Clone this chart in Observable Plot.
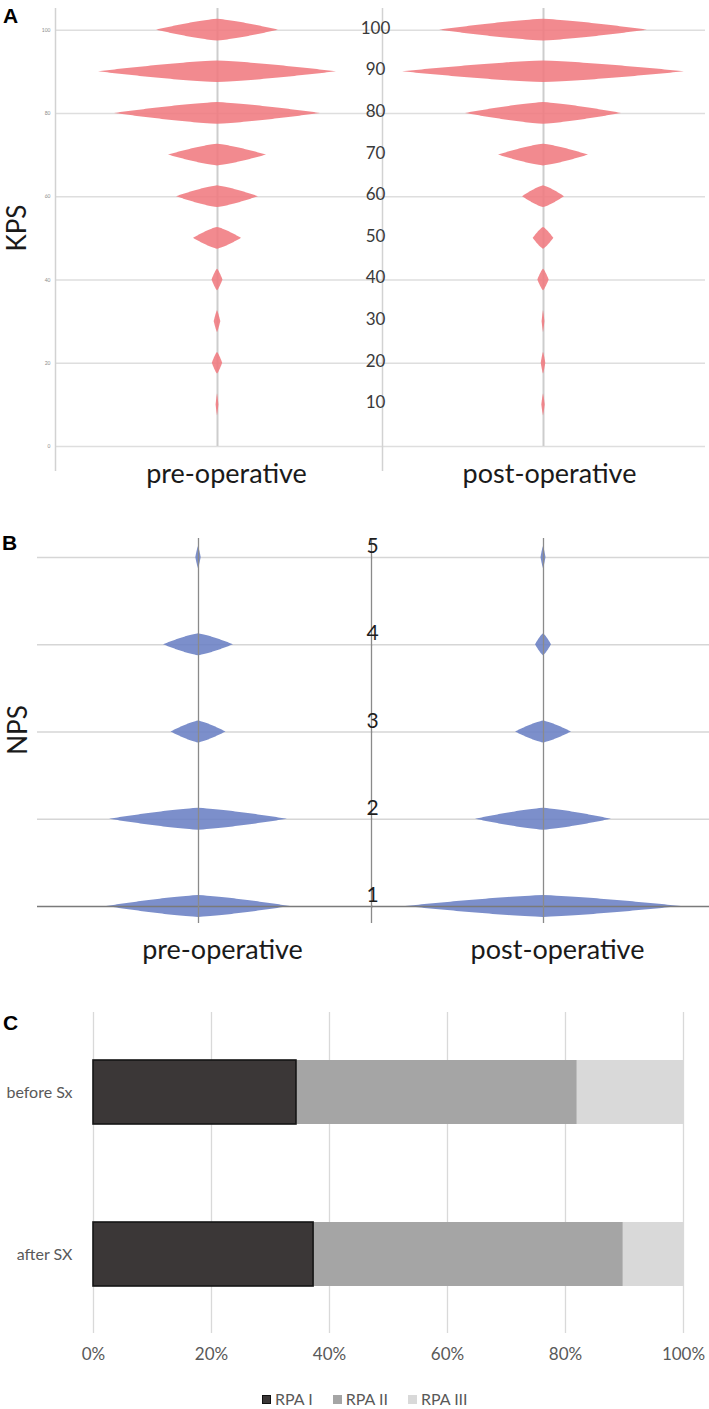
<!DOCTYPE html>
<html>
<head>
<meta charset="utf-8">
<script src="https://cdn.jsdelivr.net/npm/d3@7"></script>
<script src="https://cdn.jsdelivr.net/npm/@observablehq/plot@0.6"></script>
<style>
  html, body { margin: 0; padding: 0; background: #fff; }
  #root { position: relative; width: 709px; height: 1409px; background: #fff; font-family: Lato, "Open Sans", sans-serif; overflow: hidden; }
  .abs { position: absolute; }
  .letter { position: absolute; font-family: "Liberation Sans", Arial, sans-serif; font-weight: bold; font-size: 21px; line-height: 1; color: #000; }
  .ylab { position: absolute; font-family: Lato, sans-serif; font-size: 26px; line-height: 1; color: #1a1a1a; transform: translate(-50%, -50%) rotate(-90deg); white-space: nowrap; }
  .legend { position: absolute; display: flex; align-items: center; font-family: Lato, sans-serif; font-size: 16px; color: #595959; line-height: 1; }
  .legend .sw { display: inline-block; width: 9px; height: 9px; margin-right: 4px; }
  .legend .it { display: flex; align-items: center; margin-right: 20px; }
</style>
</head>
<body>
<div id="root"></div>
<script>
// ---------- data ----------
const groups = ["pre-operative", "post-operative"];

// Panel A: KPS violin half-widths (relative density) at each score level
const kpsLevels = [100, 90, 80, 70, 60, 50, 40, 30, 20, 10];
const kpsPre    = [61, 119, 103, 49, 41, 24, 5.5, 3.3, 5.2, 1.4];
const kpsPost   = [104, 141, 78, 45, 21, 10.3, 5.7, 1.4, 2.3, 1.7];
const kpsGrid   = [0, 20, 40, 60, 80, 100];
const kpsLabels = [100, 90, 80, 70, 60, 50, 40, 30, 20, 10];

// Panel B: NPS violin half-widths (relative density)
const npsLevels = [5, 4, 3, 2, 1];
const npsPre    = [2.7, 35, 27.5, 89, 92];
const npsPost   = [2.5, 8, 28, 68, 138];
const npsTicks  = [1, 2, 3, 4, 5];

// Panel C: RPA class shares (%)
const rpaCategories = ["before Sx", "after SX"];
const rpaSeries = ["RPA I", "RPA II", "RPA III"];
const rpaBefore = [34.4, 47.6, 18.0];
const rpaAfter  = [37.3, 52.5, 10.2];
const pctTicks  = [0, 20, 40, 60, 80, 100];
const rpaColors = ["#3b3737", "#a5a5a5", "#d9d9d9"];

// ---------- helpers ----------
// violin outline around each level: lens profile, half-width = density value
function violin(levels, widths, cut, power) {
  const out = [];
  levels.forEach((v, i) => {
    const w = widths[i];
    const n = 80;
    for (let k = 0; k <= n; k++) {
      const t = -cut + (2 * cut * k) / n;
      const h = w * Math.pow(Math.max(0, 1 - Math.abs(t) / cut), power);
      out.push({level: v, y: v + t, x1: -h, x2: h});
    }
  });
  return out;
}

const root = document.getElementById("root");
function place(node, left, top) {
  const d = document.createElement("div");
  d.className = "abs";
  d.style.left = left + "px";
  d.style.top = top + "px";
  d.appendChild(node);
  root.appendChild(d);
}
function html(cls, text, left, top) {
  const d = document.createElement("div");
  d.className = cls;
  d.textContent = text;
  d.style.left = left + "px";
  d.style.top = top + "px";
  root.appendChild(d);
}
const baseStyle = {fontFamily: "Lato, 'Open Sans', sans-serif", background: "transparent", overflow: "visible"};

// ---------- Panel A ----------
const kpsY = [-6, 105.2];
const kpsRed = "#f07a80";
const aLeftX = [-162, 165];
const aRightX = [-161, 162];
const kCut = 2.6, shapePow = 0.78;

const aLeft = Plot.plot({
  width: 382, height: 500,
  marginLeft: 55, marginRight: 0, marginTop: 8, marginBottom: 29,
  style: baseStyle,
  x: {domain: aLeftX, axis: null},
  y: {domain: kpsY, label: null},
  marks: [
    Plot.ruleY(kpsGrid, {stroke: "#dedede", strokeWidth: 1.5}),
    Plot.ruleX([aLeftX[0]], {stroke: "#d2d2d2", strokeWidth: 1.5}),
    Plot.ruleX([0], {y1: 0, y2: kpsY[1], stroke: "#cdcdcd", strokeWidth: 2}),
    Plot.axisY({ticks: kpsGrid, tickSize: 0, tickPadding: 5, fontSize: 5, color: "#8c8c8c", label: null}),
    Plot.areaX(violin(kpsLevels, kpsPre, kCut, shapePow), {y: "y", x1: "x1", x2: "x2", z: "level", fill: kpsRed, fillOpacity: 0.88, curve: "linear"}),
    Plot.text([{g: groups[0], c: 0}], {x: "c", text: "g", frameAnchor: "bottom", lineAnchor: "middle", dy: 3, dx: 9, fontSize: 27, fill: "#1a1a1a"})
  ]
});
place(aLeft, 0, 0);

const aRight = Plot.plot({
  width: 354, height: 500,
  marginLeft: 27, marginRight: 4, marginTop: 8, marginBottom: 29,
  style: baseStyle,
  x: {domain: aRightX, axis: null},
  y: {domain: kpsY, axis: null},
  marks: [
    Plot.ruleY(kpsGrid, {stroke: "#dedede", strokeWidth: 1.5}),
    Plot.ruleX([aRightX[0]], {stroke: "#d2d2d2", strokeWidth: 1.5}),
    Plot.ruleX([0], {y1: 0, y2: kpsY[1], stroke: "#cdcdcd", strokeWidth: 2}),
    Plot.areaX(violin(kpsLevels, kpsPost, kCut, shapePow), {y: "y", x1: "x1", x2: "x2", z: "level", fill: kpsRed, fillOpacity: 0.88, curve: "linear"}),
    Plot.text(kpsLabels, {y: d => d, text: d => String(d), frameAnchor: "left", textAnchor: "middle", dx: -7, dy: -2, fontSize: 17, fill: "#3a3a3a"}),
    Plot.text([{g: groups[1], c: 0}], {x: "c", text: "g", frameAnchor: "bottom", lineAnchor: "middle", dy: 3, dx: 6, fontSize: 27, fill: "#1a1a1a"})
  ]
});
place(aRight, 355, 0);

html("letter", "A", 3, 5);
html("ylab", "KPS", 16, 228);

// ---------- Panel B ----------
const npsY = [0.805, 5.218];
const npsBlue = "#6a7fc4";
const bLeftX = [-161, 175];
const bRightX = [-172, 166];
const npsUpper = npsTicks.filter(d => d > 1);
const nCut = 0.125;

const bLeft = Plot.plot({
  width: 373, height: 470,
  marginLeft: 37, marginRight: 0, marginTop: 38, marginBottom: 47,
  style: baseStyle,
  x: {domain: bLeftX, axis: null},
  y: {domain: npsY, axis: null},
  marks: [
    Plot.ruleY(npsUpper, {stroke: "#d6d6d6", strokeWidth: 1.5}),
    Plot.areaX(violin(npsLevels, npsPre, nCut, shapePow), {y: "y", x1: "x1", x2: "x2", z: "level", fill: npsBlue, fillOpacity: 0.88, curve: "linear"}),
    Plot.ruleY([1], {stroke: "#7a7a7a", strokeWidth: 1.5}),
    Plot.ruleX([0], {stroke: "#8a8a8a", strokeWidth: 1.3}),
    Plot.text([{g: groups[0], c: 0}], {x: "c", text: "g", frameAnchor: "bottom", lineAnchor: "middle", dy: 27, dx: 24, fontSize: 27, fill: "#1a1a1a"})
  ]
});
place(bLeft, 0, 500);

const bRight = Plot.plot({
  width: 364, height: 470,
  marginLeft: 26, marginRight: 0, marginTop: 38, marginBottom: 47,
  style: baseStyle,
  x: {domain: bRightX, axis: null},
  y: {domain: npsY, axis: null},
  marks: [
    Plot.ruleY(npsUpper, {stroke: "#d6d6d6", strokeWidth: 1.5}),
    Plot.areaX(violin(npsLevels, npsPost, nCut, shapePow), {y: "y", x1: "x1", x2: "x2", z: "level", fill: npsBlue, fillOpacity: 0.88, curve: "linear"}),
    Plot.ruleY([1], {stroke: "#7a7a7a", strokeWidth: 1.5}),
    Plot.ruleX([bRightX[0]], {stroke: "#8a8a8a", strokeWidth: 1.3}),
    Plot.ruleX([0], {stroke: "#8a8a8a", strokeWidth: 1.3}),
    Plot.text(npsTicks, {y: d => d, text: d => String(d), frameAnchor: "left", textAnchor: "middle", dx: 1, dy: -11, fontSize: 21, fill: "#1e1e1e"}),
    Plot.text([{g: groups[1], c: 0}], {x: "c", text: "g", frameAnchor: "bottom", lineAnchor: "middle", dy: 27, dx: 14, fontSize: 27, fill: "#1a1a1a"})
  ]
});
place(bRight, 345, 500);

html("letter", "B", 2, 532);
html("ylab", "NPS", 17, 730);

// ---------- Panel C ----------
const rpaValues = [rpaBefore, rpaAfter];
const rpaData = rpaCategories.flatMap((c, i) =>
  rpaSeries.map((s, j) => ({category: c, series: s, value: rpaValues[i][j]})));

const cPlot = Plot.plot({
  width: 709, height: 370,
  marginLeft: 93, marginRight: 26, marginTop: 12, marginBottom: 37,
  style: baseStyle,
  x: {domain: [0, 100], label: null},
  y: {domain: rpaCategories, paddingInner: 0.605, paddingOuter: 0.293, label: null},
  color: {domain: rpaSeries, range: rpaColors},
  marks: [
    Plot.gridX(pctTicks, {stroke: "#d9d9d9", strokeOpacity: 1, strokeWidth: 1.3}),
    Plot.barX(rpaData, {x: "value", y: "category", fill: "series"}),
    Plot.barX(rpaData.filter(d => d.series === rpaSeries[0]), {x: "value", y: "category", fill: "none", stroke: "#141414", strokeWidth: 1.6}),
    Plot.axisX({ticks: pctTicks, tickFormat: d => d + "%", tickSize: 0, tickPadding: 14, fontSize: 17, color: "#595959", label: null}),
    Plot.axisY({tickSize: 0, tickPadding: 21, fontSize: 16, color: "#595959", label: null})
  ]
});
place(cPlot, 0, 1000);

html("letter", "C", 3, 1012);

// legend
const leg = document.createElement("div");
leg.className = "legend";
leg.style.left = "262px";
leg.style.top = "1391px";
rpaSeries.forEach((s, i) => {
  const it = document.createElement("span");
  it.className = "it";
  const sw = document.createElement("span");
  sw.className = "sw";
  sw.style.background = rpaColors[i];
  if (i === 0) { sw.style.boxSizing = "border-box"; sw.style.border = "1px solid #111"; }
  const tx = document.createElement("span");
  tx.textContent = s;
  it.appendChild(sw);
  it.appendChild(tx);
  leg.appendChild(it);
});
root.appendChild(leg);
</script>
</body>
</html>
